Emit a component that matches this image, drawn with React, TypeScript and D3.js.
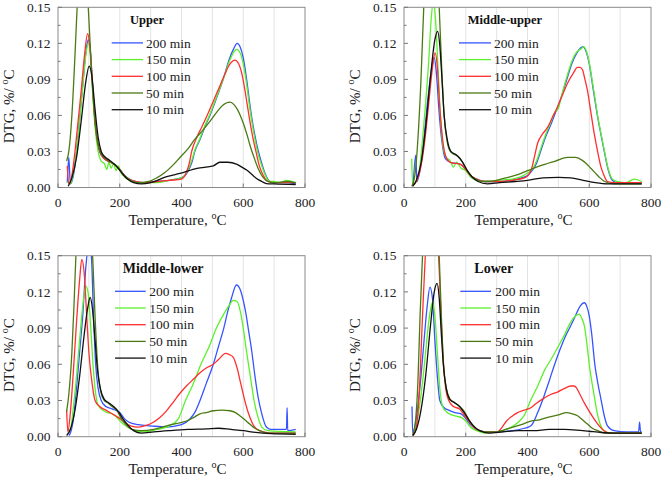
import React from "react";
import * as d3 from "d3";

type Pt = [number, number];

const SERIES_LABELS = ["200 min", "150 min", "100 min", "50 min", "10 min"];
const SERIES_COLORS = ["#3554ff", "#5cf02c", "#ff2f2f", "#4b7a14", "#111111"];
const PANEL_TITLES = ["Upper", "Middle-upper", "Middle-lower", "Lower"];
const X_TICKS = [0, 200, 400, 600, 800];
const X_GRID = [100, 200, 300, 400, 500, 600, 700];
const Y_TICKS = [0, 0.03, 0.06, 0.09, 0.12, 0.15];
const Y_MINOR = [0.015, 0.045, 0.075, 0.105, 0.135];

// ---------- Upper ----------
const up200: Pt[] = [[30,0.004],[35,0.025],[40,0.003],[50,0.01],[60,0.03],[70,0.057],[80,0.085],[90,0.112],[98,0.123],[105,0.113],[112,0.085],[120,0.055],[130,0.034],[140,0.027],[155,0.023],[170,0.021],[185,0.019],[200,0.015],[215,0.01],[230,0.007],[250,0.005],[280,0.004],[320,0.005],[360,0.006],[400,0.008],[420,0.013],[435,0.022],[443,0.03],[460,0.04],[475,0.05],[492,0.06],[510,0.072],[535,0.09],[555,0.107],[570,0.116],[580,0.12],[590,0.117],[600,0.108],[612,0.088],[620,0.072],[627,0.059],[638,0.043],[648,0.031],[660,0.02],[670,0.012],[686,0.005],[700,0.004],[740,0.004],[770,0.003]];
const up150: Pt[] = [[30,0.005],[40,0.003],[50,0.012],[60,0.03],[70,0.056],[80,0.084],[90,0.11],[98,0.12],[105,0.11],[112,0.08],[120,0.05],[130,0.03],[140,0.022],[150,0.02],[158,0.015],[165,0.021],[172,0.016],[180,0.02],[188,0.014],[195,0.018],[205,0.012],[215,0.009],[230,0.006],[250,0.004],[280,0.004],[320,0.004],[360,0.006],[400,0.008],[420,0.014],[435,0.024],[443,0.031],[460,0.041],[475,0.051],[492,0.061],[510,0.073],[535,0.09],[555,0.105],[570,0.113],[578,0.115],[590,0.112],[600,0.103],[612,0.084],[620,0.068],[627,0.056],[638,0.04],[648,0.028],[660,0.018],[670,0.011],[686,0.005],[700,0.005],[720,0.004],[740,0.006],[770,0.004]];
const up100: Pt[] = [[30,0.018],[35,0.003],[45,0.01],[55,0.03],[65,0.055],[75,0.08],[85,0.108],[96,0.128],[104,0.115],[112,0.085],[120,0.055],[130,0.035],[140,0.027],[155,0.023],[170,0.021],[185,0.019],[200,0.015],[215,0.01],[230,0.007],[250,0.005],[280,0.004],[320,0.005],[360,0.006],[400,0.007],[415,0.012],[425,0.02],[433,0.03],[450,0.042],[465,0.05],[483,0.06],[500,0.07],[520,0.082],[540,0.094],[555,0.102],[573,0.106],[585,0.103],[597,0.093],[608,0.077],[619,0.059],[630,0.043],[641,0.03],[652,0.018],[665,0.01],[680,0.005],[700,0.004],[770,0.004]];
const up50: Pt[] = [[28,0.022],[35,0.03],[45,0.06],[55,0.11],[62,0.15],[72,0.19],[80,0.2],[90,0.18],[98,0.15],[108,0.1],[118,0.06],[128,0.038],[140,0.028],[155,0.024],[170,0.021],[185,0.019],[200,0.015],[215,0.01],[235,0.006],[260,0.004],[294,0.005],[320,0.008],[344,0.012],[370,0.018],[395,0.025],[420,0.032],[443,0.04],[470,0.048],[492,0.055],[515,0.063],[532,0.068],[557,0.071],[570,0.069],[581,0.065],[595,0.057],[611,0.045],[622,0.035],[635,0.025],[648,0.016],[660,0.01],[680,0.005],[700,0.004],[740,0.005],[770,0.004]];
const up10: Pt[] = [[33,0.001],[45,0.008],[60,0.025],[75,0.055],[90,0.088],[101,0.101],[110,0.092],[120,0.065],[130,0.042],[140,0.03],[150,0.026],[165,0.023],[180,0.02],[195,0.016],[210,0.011],[225,0.007],[245,0.004],[270,0.003],[300,0.004],[352,0.009],[395,0.0117],[450,0.016],[503,0.018],[524,0.021],[550,0.021],[578,0.0195],[595,0.017],[611,0.0145],[627,0.011],[643,0.0075],[660,0.005],[675,0.0033],[700,0.003],[770,0.0025]];

// ---------- Middle-upper ----------
const mu200: Pt[] = [[30,0.003],[38,0.027],[42,0.005],[50,0.012],[60,0.03],[70,0.055],[80,0.08],[90,0.1],[98,0.108],[105,0.095],[113,0.065],[122,0.04],[134,0.024],[150,0.021],[170,0.02],[185,0.019],[200,0.015],[215,0.01],[235,0.007],[260,0.005],[300,0.005],[350,0.006],[380,0.008],[400,0.01],[415,0.014],[429,0.02],[445,0.032],[460,0.043],[475,0.052],[487,0.06],[505,0.072],[525,0.088],[545,0.104],[560,0.112],[571,0.116],[580,0.117],[590,0.113],[600,0.103],[612,0.083],[620,0.07],[627,0.059],[638,0.044],[648,0.031],[660,0.016],[675,0.006],[690,0.004],[770,0.004]];
const mu150: Pt[] = [[25,0.024],[28,0.002],[40,0.005],[50,0.015],[60,0.04],[70,0.07],[80,0.105],[88,0.14],[95,0.155],[102,0.14],[110,0.1],[118,0.06],[126,0.035],[135,0.026],[150,0.022],[160,0.017],[170,0.021],[185,0.016],[200,0.014],[215,0.009],[235,0.006],[260,0.005],[300,0.006],[350,0.007],[380,0.009],[400,0.012],[415,0.015],[429,0.022],[445,0.034],[460,0.045],[475,0.054],[487,0.062],[500,0.066],[510,0.076],[525,0.09],[545,0.106],[560,0.113],[571,0.115],[583,0.117],[590,0.114],[600,0.104],[612,0.085],[620,0.072],[627,0.06],[638,0.045],[648,0.032],[660,0.017],[675,0.007],[690,0.005],[720,0.004],[745,0.007],[770,0.005]];
const mu100: Pt[] = [[30,0.002],[40,0.005],[50,0.012],[60,0.025],[70,0.045],[80,0.07],[90,0.095],[101,0.112],[108,0.1],[115,0.07],[125,0.04],[135,0.026],[150,0.021],[170,0.02],[185,0.019],[200,0.015],[215,0.01],[235,0.007],[260,0.005],[300,0.005],[350,0.006],[390,0.008],[411,0.014],[422,0.025],[433,0.037],[450,0.045],[465,0.05],[480,0.058],[497,0.067],[515,0.078],[530,0.087],[548,0.095],[562,0.1],[570,0.1],[578,0.098],[586,0.09],[594,0.081],[605,0.063],[616,0.045],[627,0.03],[638,0.017],[648,0.01],[659,0.005],[680,0.004],[770,0.004]];
const mu50: Pt[] = [[25,0.001],[35,0.01],[45,0.04],[55,0.09],[64,0.15],[75,0.195],[88,0.21],[100,0.19],[114,0.15],[122,0.1],[130,0.06],[140,0.038],[150,0.03],[160,0.028],[175,0.026],[190,0.021],[205,0.014],[220,0.009],[240,0.006],[270,0.005],[300,0.006],[330,0.008],[360,0.01],[400,0.014],[440,0.018],[490,0.022],[530,0.025],[555,0.025],[575,0.023],[590,0.02],[605,0.016],[620,0.012],[635,0.008],[650,0.005],[680,0.003],[770,0.003]];
const mu10: Pt[] = [[28,0.001],[40,0.006],[55,0.02],[70,0.05],[85,0.09],[100,0.123],[109,0.13],[116,0.118],[123,0.09],[130,0.06],[140,0.04],[152,0.03],[170,0.027],[190,0.021],[205,0.014],[220,0.009],[240,0.005],[270,0.003],[310,0.004],[360,0.005],[400,0.006],[450,0.008],[500,0.0085],[540,0.008],[580,0.006],[620,0.004],[660,0.003],[770,0.003]];

// ---------- Middle-lower ----------
const ml200: Pt[] = [[35,0.001],[40,0.003],[50,0.015],[60,0.04],[70,0.07],[80,0.1],[90,0.14],[100,0.16],[108,0.15],[115,0.1],[122,0.06],[130,0.04],[140,0.03],[155,0.025],[175,0.023],[200,0.02],[215,0.015],[230,0.012],[260,0.01],[300,0.009],[350,0.008],[400,0.01],[425,0.014],[445,0.021],[460,0.03],[480,0.044],[503,0.06],[520,0.075],[537,0.09],[550,0.104],[562,0.115],[578,0.1257],[590,0.122],[600,0.113],[608,0.103],[616,0.09],[628,0.07],[638,0.05],[648,0.033],[659,0.02],[675,0.008],[690,0.006],[740,0.006],[742,0.024],[744,0.005],[770,0.006]];
const ml150: Pt[] = [[30,0.005],[40,0.006],[50,0.025],[60,0.05],[70,0.08],[80,0.108],[90,0.125],[97,0.12],[105,0.095],[112,0.065],[120,0.04],[130,0.026],[145,0.022],[160,0.02],[175,0.019],[190,0.016],[205,0.012],[225,0.008],[250,0.005],[280,0.004],[320,0.006],[360,0.009],[390,0.015],[413,0.03],[440,0.045],[463,0.06],[490,0.075],[513,0.09],[540,0.103],[555,0.109],[567,0.113],[580,0.112],[592,0.102],[600,0.09],[611,0.07],[623,0.05],[635,0.03],[648,0.016],[660,0.008],[680,0.005],[770,0.004]];
const ml100: Pt[] = [[28,0.022],[32,0.004],[40,0.02],[50,0.055],[60,0.095],[70,0.13],[77,0.147],[85,0.135],[93,0.1],[100,0.07],[110,0.045],[120,0.03],[135,0.025],[155,0.022],[175,0.019],[195,0.016],[215,0.012],[235,0.009],[260,0.008],[280,0.009],[298,0.0105],[330,0.016],[350,0.021],[373,0.0285],[395,0.036],[416,0.042],[440,0.048],[460,0.053],[480,0.057],[503,0.06],[520,0.064],[543,0.069],[555,0.068],[567,0.066],[580,0.057],[591,0.045],[603,0.032],[616,0.02],[630,0.011],[643,0.0064],[665,0.004],[700,0.003],[770,0.003]];
const ml50: Pt[] = [[28,0.021],[35,0.035],[45,0.07],[52,0.11],[58,0.15],[68,0.185],[85,0.195],[100,0.18],[112,0.15],[120,0.1],[128,0.06],[138,0.038],[150,0.03],[162,0.028],[175,0.025],[190,0.022],[205,0.015],[220,0.01],[240,0.006],[270,0.005],[310,0.006],[352,0.009],[385,0.011],[416,0.013],[440,0.016],[460,0.019],[480,0.02],[503,0.0215],[530,0.022],[557,0.0215],[575,0.02],[589,0.0174],[605,0.014],[621,0.0105],[638,0.007],[654,0.005],[680,0.003],[770,0.003]];
const ml10: Pt[] = [[28,0.001],[40,0.006],[55,0.022],[70,0.05],[85,0.085],[97,0.108],[104,0.1155],[112,0.105],[120,0.08],[128,0.055],[137,0.04],[150,0.031],[165,0.028],[180,0.025],[195,0.021],[210,0.015],[225,0.01],[245,0.005],[270,0.003],[310,0.004],[360,0.005],[420,0.006],[480,0.0065],[520,0.007],[560,0.006],[600,0.005],[640,0.0035],[690,0.0025],[770,0.002]];

// ---------- Lower ----------
const lo200: Pt[] = [[26,0.025],[28,0.003],[35,0.008],[45,0.025],[55,0.05],[65,0.08],[75,0.108],[84,0.124],[92,0.115],[100,0.08],[108,0.05],[116,0.03],[130,0.024],[145,0.022],[165,0.02],[185,0.019],[200,0.015],[215,0.01],[235,0.006],[260,0.004],[300,0.004],[350,0.005],[390,0.007],[411,0.009],[433,0.02],[454,0.034],[470,0.046],[488,0.06],[505,0.072],[519,0.081],[540,0.092],[555,0.1],[571,0.1085],[584,0.111],[592,0.108],[600,0.1],[608,0.085],[618,0.06],[628,0.044],[638,0.031],[648,0.018],[659,0.009],[681,0.005],[720,0.004],[760,0.004],[763,0.012],[766,0.004],[770,0.004]];
const lo150: Pt[] = [[30,0.001],[40,0.01],[50,0.025],[60,0.045],[70,0.07],[80,0.095],[88,0.108],[93,0.112],[100,0.1],[108,0.07],[116,0.04],[125,0.025],[140,0.02],[155,0.018],[170,0.017],[185,0.016],[200,0.013],[215,0.008],[235,0.005],[260,0.003],[300,0.004],[340,0.007],[370,0.012],[389,0.0174],[410,0.03],[433,0.042],[455,0.055],[476,0.064],[500,0.075],[519,0.084],[540,0.095],[555,0.1],[567,0.1016],[576,0.098],[584,0.092],[592,0.078],[600,0.06],[608,0.046],[616,0.034],[624,0.022],[632,0.013],[648,0.005],[670,0.003],[770,0.003]];
const lo100: Pt[] = [[30,0.001],[40,0.008],[50,0.04],[60,0.1],[69,0.15],[80,0.185],[92,0.19],[104,0.175],[112,0.15],[120,0.1],[128,0.06],[135,0.04],[145,0.03],[160,0.025],[180,0.023],[195,0.018],[210,0.013],[225,0.008],[245,0.005],[270,0.004],[303,0.004],[318,0.008],[332,0.013],[350,0.017],[368,0.02],[390,0.022],[411,0.024],[430,0.028],[454,0.032],[475,0.035],[497,0.037],[520,0.04],[540,0.042],[550,0.042],[557,0.041],[570,0.035],[584,0.028],[600,0.021],[616,0.0146],[632,0.009],[648,0.005],[670,0.003],[770,0.003]];
const lo50: Pt[] = [[28,0.001],[38,0.015],[45,0.045],[52,0.1],[60,0.15],[72,0.19],[88,0.2],[102,0.185],[114,0.15],[121,0.1],[128,0.06],[137,0.04],[150,0.031],[165,0.028],[180,0.025],[195,0.021],[210,0.014],[225,0.009],[245,0.005],[270,0.004],[300,0.004],[340,0.007],[380,0.01],[411,0.013],[440,0.014],[465,0.016],[500,0.018],[526,0.02],[545,0.019],[562,0.0174],[578,0.014],[594,0.0105],[610,0.007],[627,0.005],[650,0.003],[770,0.003]];
const lo10: Pt[] = [[28,0.001],[40,0.006],[55,0.022],[70,0.05],[85,0.09],[98,0.12],[107,0.127],[114,0.115],[121,0.085],[128,0.058],[137,0.04],[148,0.031],[165,0.028],[180,0.025],[195,0.02],[210,0.014],[225,0.009],[245,0.005],[275,0.003],[320,0.004],[370,0.005],[420,0.005],[470,0.006],[520,0.006],[560,0.0055],[600,0.0045],[640,0.0035],[680,0.003],[770,0.003]];

const PANEL_DATA: Pt[][][] = [
  [up200, up150, up100, up50, up10],
  [mu200, mu150, mu100, mu50, mu10],
  [ml200, ml150, ml100, ml50, ml10],
  [lo200, lo150, lo100, lo50, lo10],
];

const LAYOUT = [
  { left: 58, right: 305, top: 7.3, bottom: 187.5, titleDx: 72, titleSize: 12.5, lineX1: 53.7, lineX2: 85, textDx: 88 },
  { left: 404, right: 651, top: 7.3, bottom: 187.5, titleDx: 63.7, titleSize: 12.5, lineX1: 55, lineX2: 87, textDx: 90 },
  { left: 58, right: 305, top: 255.7, bottom: 436.7, titleDx: 64.7, titleSize: 14, lineX1: 57, lineX2: 87.7, textDx: 91.3 },
  { left: 404, right: 651, top: 255.7, bottom: 436.7, titleDx: 70.3, titleSize: 14, lineX1: 56.3, lineX2: 87, textDx: 91.3 },
];

const FONT = "'Liberation Serif', 'Times New Roman', serif";

function Panel({ idx }: { idx: number }) {
  const L = LAYOUT[idx];
  const x = d3.scaleLinear().domain([0, 800]).range([L.left, L.right]);
  const y = d3.scaleLinear().domain([0, 0.15]).range([L.bottom, L.top]);
  const line = d3
    .line<Pt>()
    .x((d) => x(d[0]))
    .y((d) => y(d[1]))
    .curve(d3.curveMonotoneX);
  const clipId = `clip${idx}`;
  const cx = (L.left + L.right) / 2;
  const cy = (L.top + L.bottom) / 2;
  const fmt = d3.format(".2f");
  return (
    <g>
      <defs>
        <clipPath id={clipId}>
          <rect x={L.left} y={L.top} width={L.right - L.left} height={L.bottom - L.top} />
        </clipPath>
      </defs>
      {X_GRID.map((t) => (
        <line key={"g" + t} x1={x(t)} x2={x(t)} y1={L.top} y2={L.bottom} stroke="#dcdcdc" strokeWidth={0.8} />
      ))}
      <g clipPath={`url(#${clipId})`}>
        {PANEL_DATA[idx].map((s, i) => (
          <path key={i} d={line(s) || ""} fill="none" stroke={SERIES_COLORS[i]} strokeWidth={1.3} />
        ))}
      </g>
      <rect x={L.left} y={L.top} width={L.right - L.left} height={L.bottom - L.top} fill="none" stroke="#8a8a8a" strokeWidth={1} />
      {Y_TICKS.map((v) => (
        <g key={"y" + v}>
          <line x1={L.left} x2={L.left + 4} y1={y(v)} y2={y(v)} stroke="#777" />
          <text x={L.left - 7.5} y={y(v)} dy="0.35em" textAnchor="end" fontSize={13.5} fontFamily={FONT} fill="#222">
            {fmt(v)}
          </text>
        </g>
      ))}
      {Y_MINOR.map((v) => (
        <line key={"ym" + v} x1={L.left} x2={L.left + 2.5} y1={y(v)} y2={y(v)} stroke="#777" />
      ))}
      {X_TICKS.map((t) => (
        <g key={"x" + t}>
          <line x1={x(t)} x2={x(t)} y1={L.bottom} y2={L.bottom - 4} stroke="#777" />
          <text x={x(t)} y={L.bottom + 19} textAnchor="middle" fontSize={13.5} fontFamily={FONT} fill="#222">
            {t}
          </text>
        </g>
      ))}
      <text x={cx - 4} y={L.bottom + 37.5} textAnchor="middle" fontSize={15} fontFamily={FONT} fill="#222">
        Temperature,{" "}
        <tspan fontSize={10} dy={-6}>o</tspan>
        <tspan dy={6}>C</tspan>
      </text>
      <text
        transform={`translate(${L.left - 49},${cy + 9}) rotate(-90)`}
        textAnchor="middle"
        dy="0.35em"
        fontSize={15}
        fontFamily={FONT}
        fill="#222"
      >
        DTG, %/{" "}
        <tspan fontSize={10} dy={-6}>o</tspan>
        <tspan dy={6}>C</tspan>
      </text>
      <text x={L.left + L.titleDx} y={L.top + 12.7} dy="0.35em" fontSize={L.titleSize} fontWeight="bold" fontFamily={FONT} fill="#111">
        {PANEL_TITLES[idx]}
      </text>
      {SERIES_LABELS.map((lab, i) => {
        const ry = L.top + 35.6 + i * 16.7;
        return (
          <g key={lab}>
            <line x1={L.left + L.lineX1} x2={L.left + L.lineX2} y1={ry} y2={ry} stroke={SERIES_COLORS[i]} strokeWidth={1.3} />
            <text x={L.left + L.textDx} y={ry} dy="0.35em" fontSize={13.5} fontFamily={FONT} fill="#222">
              {lab}
            </text>
          </g>
        );
      })}
    </g>
  );
}

export default function App() {
  return (
    <div style={{ position: "absolute", left: 0, top: 0 }}>
      <svg width={663} height={478} viewBox="0 0 663 478" style={{ display: "block", background: "#fff" }}>
        {[0, 1, 2, 3].map((i) => (
          <Panel key={i} idx={i} />
        ))}
      </svg>
    </div>
  );
}
